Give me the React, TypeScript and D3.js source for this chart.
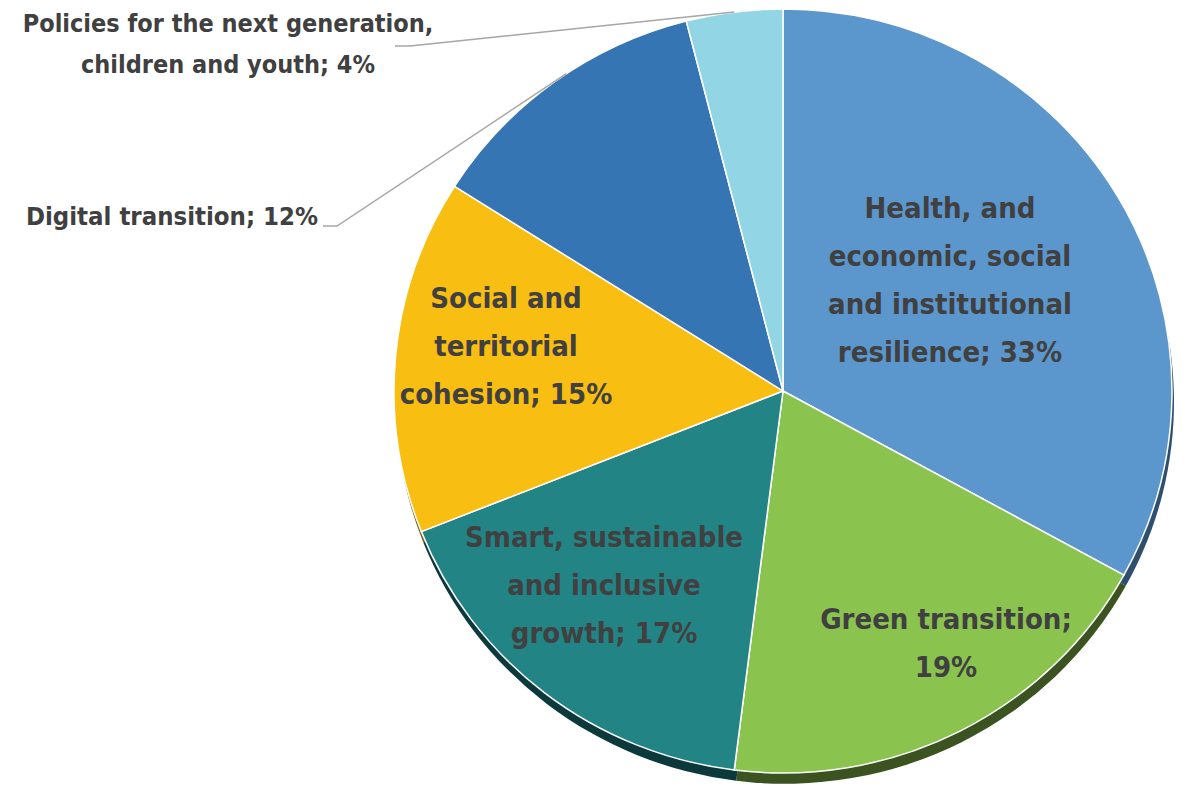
import React, { useEffect, useRef } from 'react';
import * as d3 from 'd3';

// shares in %, clockwise from 12 o'clock
const categories = [
  'Health, and economic, social and institutional resilience',
  'Green transition',
  'Smart, sustainable and inclusive growth',
  'Social and territorial cohesion',
  'Digital transition',
  'Policies for the next generation, children and youth',
];
const values = [33, 19, 17, 15, 12, 4];
const labelLines = [
  ['Health, and', 'economic, social', 'and institutional', 'resilience; 33%'],
  ['Green transition;', '19%'],
  ['Smart, sustainable', 'and inclusive', 'growth; 17%'],
  ['Social and', 'territorial', 'cohesion; 15%'],
  ['Digital transition; 12%'],
  ['Policies for the next generation,', 'children and youth; 4%'],
];

const colors = ['#5b96cc', '#8bc34f', '#238486', '#f8be12', '#3675b3', '#92d5e4'];
const sideColors = ['#2f4f6e', '#3b5321', '#0c393b', '#7a5c08', '#1c3d5e', '#4a6b73'];

const W = 1192;
const H = 786;

const App: React.FC = () => {
  const ref = useRef<SVGSVGElement | null>(null);

  useEffect(() => {
    document.body.style.margin = '0';
    if (!ref.current) return;
    const svg = d3.select(ref.current);
    svg.selectAll('*').remove();

    const cx = 783;
    const cy = 391;
    const r = 389;
    const squash = 382 / 389; // slight tilt, the pie is a little flatter than round
    const font = "'DejaVu Sans Condensed', 'Liberation Sans Narrow', 'DejaVu Sans', sans-serif";
    const textColor = '#404040';

    const pie = d3.pie<number>().sort(null).value(d => d);
    const arcs = pie(values);
    const arc = d3.arc<d3.PieArcDatum<number>>().innerRadius(0).outerRadius(r);

    const g = svg.append('g').attr('transform', `translate(${cx},${cy}) scale(1,${squash})`);

    // 3d side / extrusion
    g.append('g')
      .attr('transform', 'translate(2,11)')
      .selectAll('path')
      .data(arcs)
      .join('path')
      .attr('d', arc)
      .attr('fill', (_, i) => sideColors[i]);

    g.append('g')
      .selectAll('path')
      .data(arcs)
      .join('path')
      .attr('d', arc)
      .attr('fill', (_, i) => colors[i])
      .attr('stroke', '#ffffff')
      .attr('stroke-width', 1.5)
      .append('title')
      .text((d, i) => `${categories[i]}: ${d.data}%`);

    // inside labels (centre of each text block, page coords)
    const labelPos = [[950, 280], [946, 643], [604, 585], [506, 346]];
    const lineH = 48;
    labelPos.forEach(([lx, ly], i) => {
      const lines = labelLines[i];
      const t = svg.append('text')
        .attr('text-anchor', 'middle')
        .attr('font-family', font)
        .attr('font-weight', 'bold')
        .attr('font-size', 29)
        .attr('fill', textColor);
      lines.forEach((s, k) => {
        t.append('tspan')
          .attr('x', lx)
          .attr('y', ly + (k - (lines.length - 1) / 2) * lineH)
          .attr('dy', '0.35em')
          .text(s);
      });
    });

    // outside labels with leader lines
    const edge = (a: number) => [cx + r * Math.sin(a), cy - r * squash * Math.cos(a)] as [number, number];
    const lineColor = '#a6a6a6';
    const line = d3.line();

    const dEnd = edge(arcs[4].startAngle + (arcs[4].endAngle - arcs[4].startAngle) * 0.55);
    svg.append('path')
      .attr('d', line([[323, 226], [337, 226], dEnd]))
      .attr('fill', 'none')
      .attr('stroke', lineColor)
      .attr('stroke-width', 1.5);

    svg.append('text')
      .attr('x', 318)
      .attr('y', 216)
      .attr('dy', '0.35em')
      .attr('text-anchor', 'end')
      .attr('font-family', font)
      .attr('font-weight', 'bold')
      .attr('font-size', 25.5)
      .attr('fill', textColor)
      .text(labelLines[4][0]);

    // Policies
    const pEnd = edge((arcs[5].startAngle + arcs[5].endAngle) / 2);
    svg.append('path')
      .attr('d', line([[395, 46], [410, 46], pEnd]))
      .attr('fill', 'none')
      .attr('stroke', lineColor)
      .attr('stroke-width', 1.5);

    const pt = svg.append('text')
      .attr('text-anchor', 'middle')
      .attr('font-family', font)
      .attr('font-weight', 'bold')
      .attr('font-size', 25)
      .attr('fill', textColor);
    labelLines[5].forEach((s, k) => {
      pt.append('tspan')
        .attr('x', 228)
        .attr('y', 23 + k * 41)
        .attr('dy', '0.35em')
        .text(s);
    });
  }, []);

  return <svg ref={ref} width={W} height={H} style={{ display: 'block', background: '#ffffff' }} />;
};

export default App;
